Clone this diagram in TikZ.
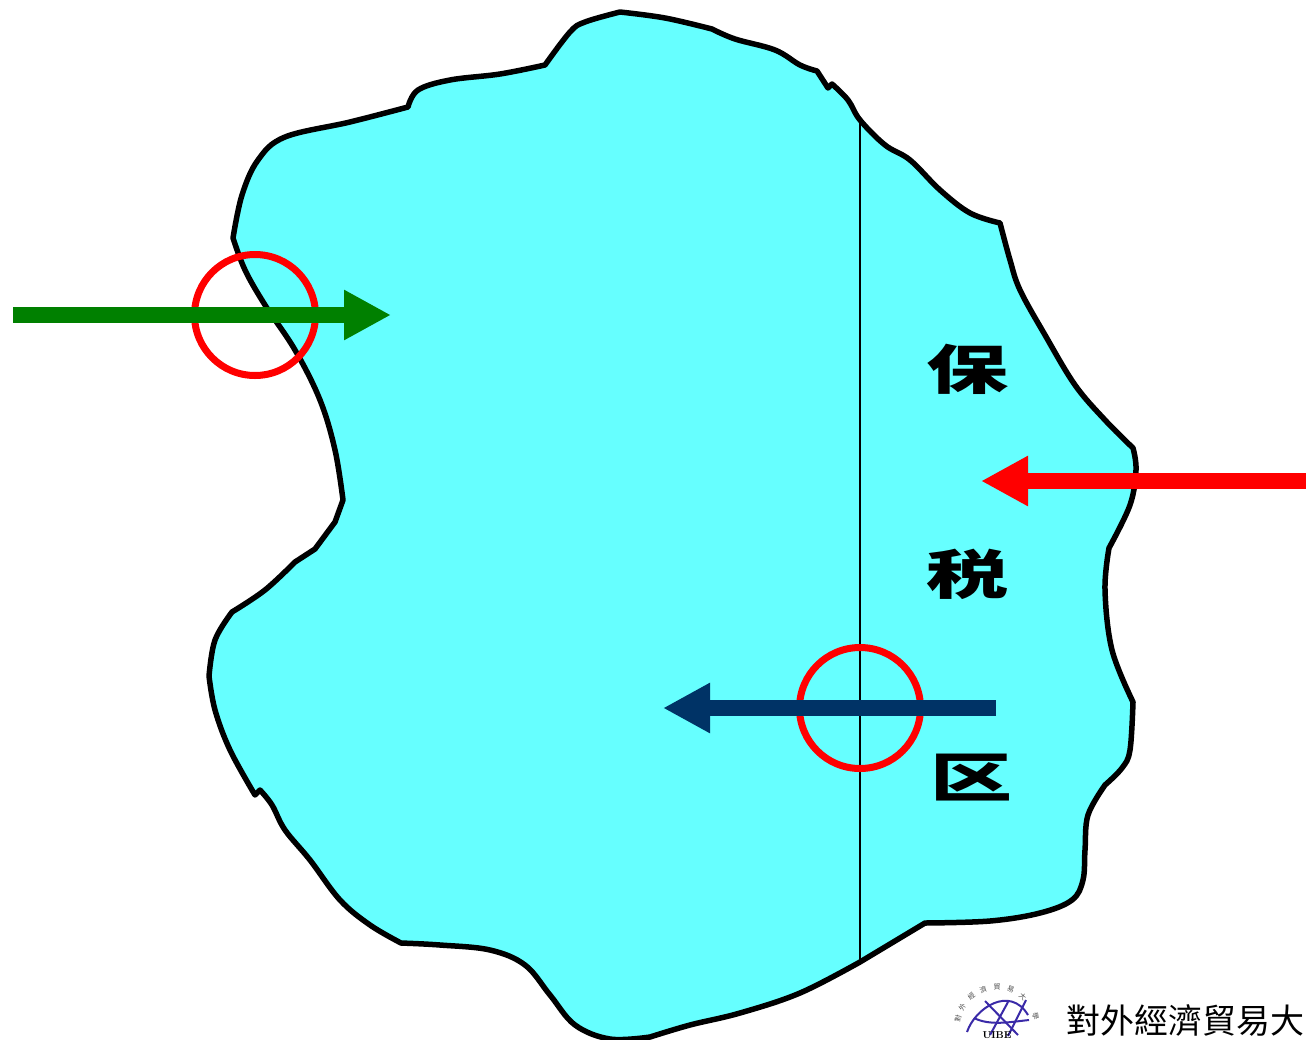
\documentclass[tikz,border=0pt]{standalone}
\usepackage{fontspec}
\usepackage{tikz}
\usetikzlibrary{arrows.meta,calc}
\newfontfamily\cjkbold{Noto Sans CJK SC}
\newfontfamily\cjklogo{Noto Sans CJK TC}
\definecolor{zonecyan}{HTML}{66FFFF}
\definecolor{flowgreen}{HTML}{008000}
\definecolor{flownavy}{HTML}{003366}
\definecolor{logoblue}{HTML}{3A2AA8}
\tikzset{
   x=1pt,y=-1pt,
   flow/.style={line width=16pt,-{Triangle[length=47pt,width=47pt]}},
   gate/.style={circle,draw=red,line width=7pt,minimum size=121pt,inner sep=0pt},
   bigchar/.style={font=\cjkbold\fontsize{76}{76}\selectfont\bfseries,inner sep=0pt,
      xscale=1.08,yscale=0.7,transform shape},
   logoline/.style={draw=logoblue,line width=2pt},
   logochar/.style={font=\cjklogo\fontsize{34}{34}\selectfont,inner sep=0pt,anchor=base west},
   ringchar/.style={font=\cjklogo\fontsize{7}{7}\selectfont,inner sep=0pt,text=black!70},
   seg/.style={smooth,tension=0.6}
}
\begin{document}
\begin{tikzpicture}
   \useasboundingbox (0,0) rectangle (1306,1039);
   \clip (0,0) rectangle (1306,1039);
   % bonded zone outline
   \draw[fill=zonecyan,line width=5.5pt,line join=round]
      plot[seg] coordinates {(620,12) (665,18) (712,29)}
      -- plot[seg] coordinates {(712,29) (735,39) (775,50) (800,65) (817,71)}
      -- (828,88) -- (832,84)
      -- plot[seg] coordinates {(832,84) (848,100) (860,120) (885,145) (910,160) (940,190) (970,213) (1000,223)}
      -- plot[seg] coordinates {(1000,223) (1010,260) (1020,290) (1045,335) (1075,385) (1105,420) (1133,448)}
      -- plot[seg] coordinates {(1133,448) (1136,470) (1130,505) (1109,548)}
      -- plot[seg] coordinates {(1109,548) (1105,590) (1112,650) (1133,702)}
      -- plot[seg] coordinates {(1133,702) (1130,750) (1122,768) (1105,785)}
      -- plot[seg] coordinates {(1105,785) (1088,815) (1085,850) (1083,880) (1072,900) (1040,913) (990,921) (925,923)}
      -- (860,962)
      -- plot[seg] coordinates {(860,962) (800,993) (740,1013) (690,1025) (650,1037)}
      -- plot[seg] coordinates {(650,1037) (610,1039) (575,1025) (550,995) (525,965) (490,950) (440,945) (401,943)}
      -- plot[seg] coordinates {(401,943) (370,925) (340,900) (310,860) (285,830) (272,805) (260,790)}
      -- (255,795)
      -- plot[seg] coordinates {(255,795) (230,750) (215,710) (209,676)}
      -- plot[seg] coordinates {(209,676) (215,640) (232,612)}
      -- plot[seg] coordinates {(232,612) (265,590) (295,562)}
      -- (315,549) -- (335,522) -- (343,500)
      -- plot[seg] coordinates {(343,500) (335,450) (320,400) (295,350) (265,305) (245,270) (233,238)}
      -- plot[seg] coordinates {(233,238) (242,195) (258,160) (285,137) (350,122) (408,107)}
      -- plot[seg] coordinates {(408,107) (418,90) (450,80) (500,74) (545,65)}
      -- plot[seg] coordinates {(545,65) (570,32) (585,22) (620,12)}
      -- cycle;
   % border line
   \coordinate (lineTop) at (860,120);
   \coordinate (lineBot) at (860,962);
   \draw[line width=1.6pt] (lineTop) -- (lineBot);
   % gates
   \node[gate] (gateLeft) at (255,315) {};
   \node[gate] (gateRight) at (860,708) {};
   % flows
   \coordinate (greenStart) at (13,315);
   \coordinate (greenEnd) at (391,315);
   \coordinate (redStart) at (1306,481);
   \coordinate (redEnd) at (981,481);
   \coordinate (navyStart) at (996,708);
   \coordinate (navyEnd) at (663,708);
   \draw[flow,flowgreen] (greenStart) -- (greenEnd);
   \draw[flow,red] (redStart) -- (redEnd);
   \draw[flow,flownavy] (navyStart) -- (navyEnd);
   % zone name
   \node[bigchar] (charBao) at (968,369) {保};
   \node[bigchar] (charShui) at (968,574) {税};
   \node[bigchar] (charQu) at (972,778) {区};
   % logo
   \draw[logoline] (967,1032) .. controls (975,1008) and (1010,985) .. (1028,1015);
   \draw[logoline] (985,1001) -- (1018,1035);
   \draw[logoline] (1008,1002) -- (990,1035);
   \draw[logoline] (1026,1000) -- (1008,1036);
   \draw[logoline] (974,1018) .. controls (990,1026) and (1010,1022) .. (1029,1020);
   \foreach \c/\a [count=\i] in {對/168,外/150,經/130,濟/110,貿/90,易/70,大/50,學/15}
      \node[ringchar,rotate=\a-90] (ring\i) at ($(997,1027)+(-\a:40)$) {\c};
   \node[font=\bfseries\fontsize{10}{10}\selectfont,inner sep=0pt,anchor=base] (logoAbbr) at (997,1038.5) {UIBE};
   \node[logochar] (logoText) at (1066,1033) {對外經濟貿易大};
\end{tikzpicture}
\end{document}
